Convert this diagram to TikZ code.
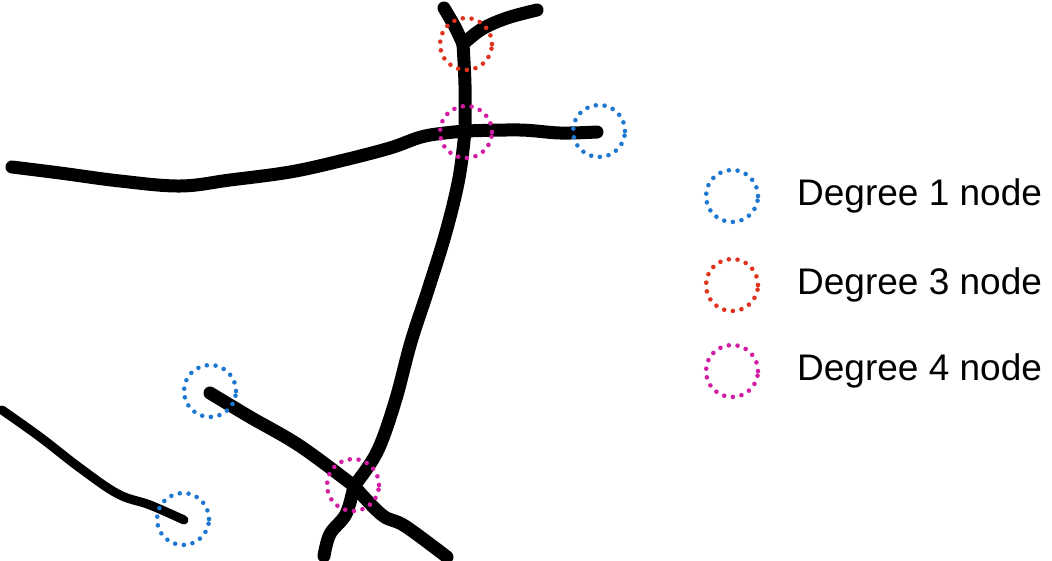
\documentclass[tikz,border=0pt]{standalone}
\usepackage{fontspec}
\setmainfont{Liberation Sans}
\definecolor{dblue}{HTML}{1E78D2}
\definecolor{dred}{HTML}{E0321E}
\definecolor{dmag}{HTML}{D21EA5}
\begin{document}
\begin{tikzpicture}[x=1pt,y=-1pt,
  stroke/.style={line width=13pt,line cap=round,line join=round,black},
  thinstroke/.style={line width=9pt,line cap=round,line join=round,black},
  ring/.style={circle,minimum size=52pt,inner sep=0pt,line width=4.6pt,
    dash pattern=on 0pt off 8.8pt,line cap=round},
  label/.style={anchor=west,font=\fontsize{37}{40}\selectfont,inner sep=0pt}]
\useasboundingbox (0,0) rectangle (1052,560);
% junctions and ends
\coordinate (ytop) at (444,8);
\coordinate (yj) at (463,44);
\coordinate (ytr) at (537,10);
\coordinate (xa) at (465,131);
\coordinate (lend) at (12,167);
\coordinate (ra) at (597,132);
\coordinate (xb) at (354,486);
\coordinate (ub) at (210,393);
\coordinate (bl) at (324,556);
\coordinate (br) at (447,557);
\coordinate (ll) at (2,410);
\coordinate (lc) at (184,520);
% strokes
\draw[stroke] plot[smooth,tension=0.6] coordinates {(ytop) (455,27) (yj)};
\draw[stroke] plot[smooth,tension=0.6] coordinates {(yj) (482,29) (507,18) (ytr)};
\draw[stroke] plot[smooth,tension=0.6] coordinates {(yj) (465,85) (xa)};
\draw[stroke] plot[smooth,tension=0.6] coordinates {(lend) (60,173) (120,181) (180,186) (230,180) (290,172) (340,161) (390,148) (425,136) (xa)};
\draw[stroke] plot[smooth,tension=0.6] coordinates {(xa) (520,130) (560,133) (ra)};
\draw[stroke] plot[smooth,tension=0.6] coordinates {(xa) (459,178) (446,232) (428,290) (411,342) (395,402) (377,452) (xb)};
\draw[stroke] plot[smooth,tension=0.6] coordinates {(xb) (346,514) (330,534) (bl)};
\draw[stroke] plot[smooth,tension=0.6] coordinates {(xb) (382,515) (405,526) (br)};
\draw[stroke] plot[smooth,tension=0.6] coordinates {(ub) (250,417) (300,446) (xb)};
\draw[thinstroke] plot[smooth,tension=0.6] coordinates {(ll) (40,437) (80,468) (118,494) (150,505) (lc)};
% rings
\node[ring,draw=dred] (r3) at (466,44) {};
\node[ring,draw=dmag] (r4a) at (466,132) {};
\node[ring,draw=dblue] (r1a) at (599,131) {};
\node[ring,draw=dblue] (r1b) at (210,391) {};
\node[ring,draw=dmag] (r4b) at (353,485) {};
\node[ring,draw=dblue] (r1c) at (183,519) {};
% legend
\node[ring,draw=dblue] (k1) at (732,196) {};
\node[ring,draw=dred] (k3) at (732,285) {};
\node[ring,draw=dmag] (k4) at (732,371) {};
\node[label] (t1) at (797,196) {Degree 1 node};
\node[label] (t3) at (797,285) {Degree 3 node};
\node[label] (t4) at (797,371) {Degree 4 node};
\end{tikzpicture}
\end{document}
